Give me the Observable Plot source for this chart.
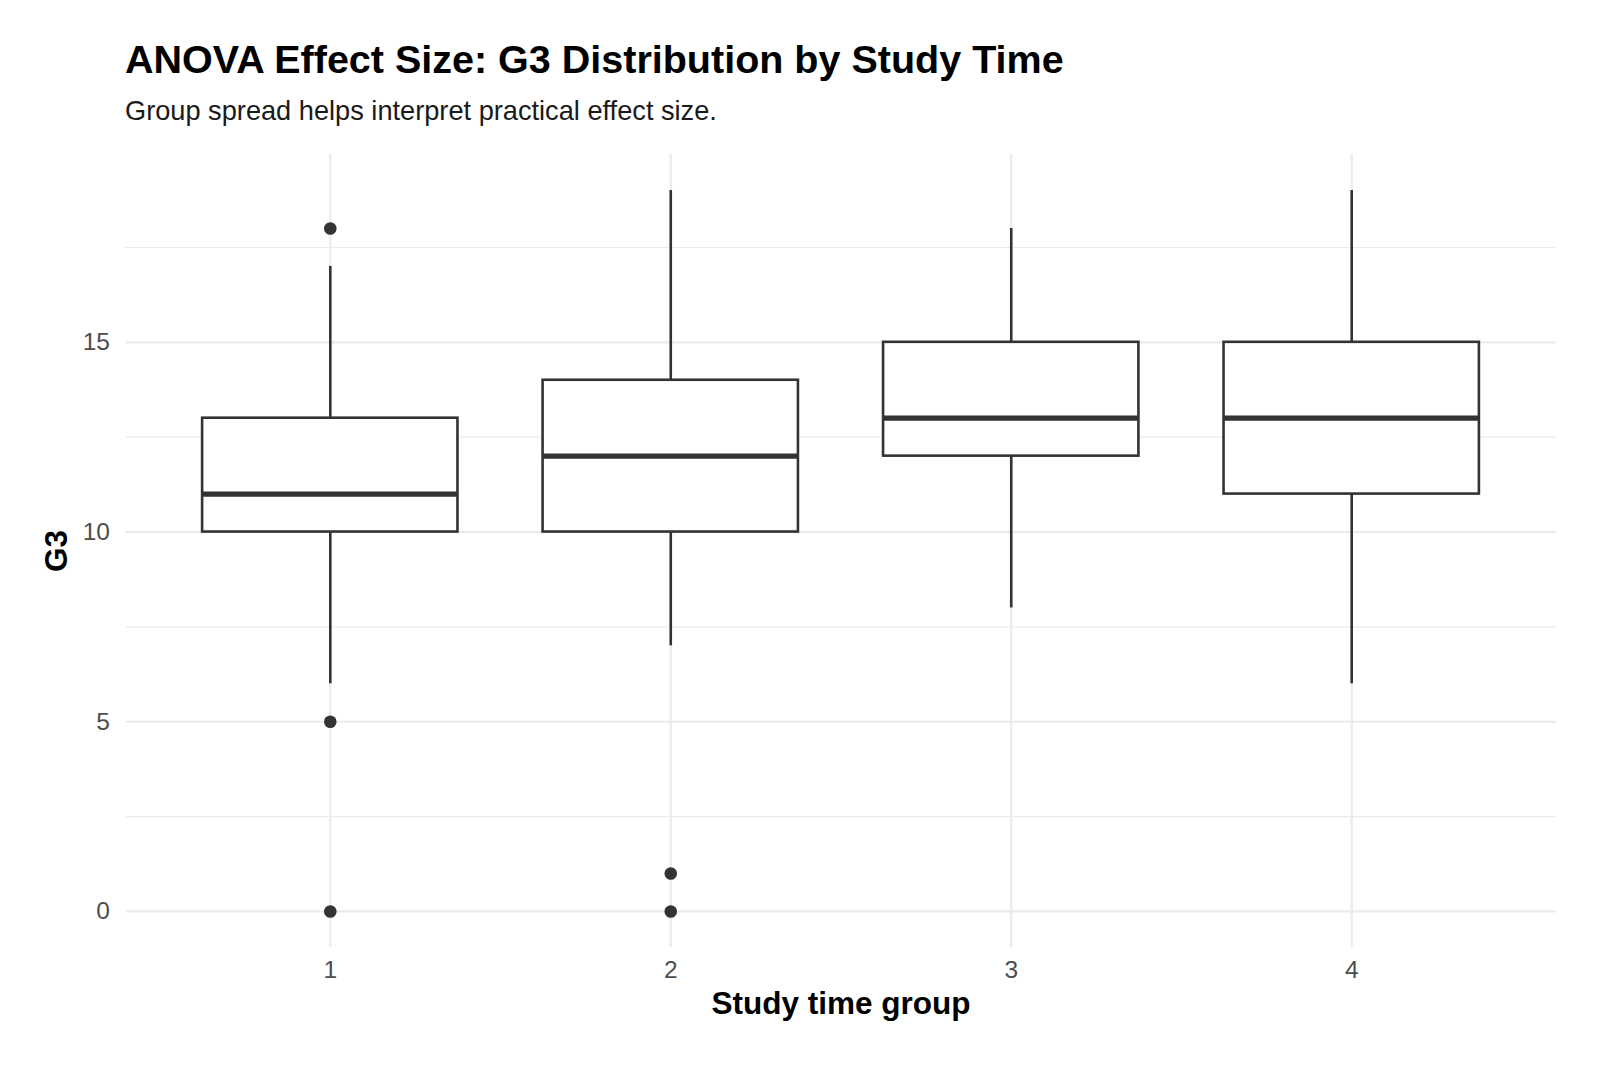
<!DOCTYPE html>
<html>
<head>
<meta charset="utf-8">
<script src="https://cdn.jsdelivr.net/npm/d3@7"></script>
<script src="https://cdn.jsdelivr.net/npm/@observablehq/plot@0.6"></script>
<style>
  html, body { margin: 0; padding: 0; background: #ffffff; }
  body { width: 1600px; height: 1067px; overflow: hidden; font-family: "Liberation Sans", Arial, Helvetica, sans-serif; }
  #header { position: relative; width: 1600px; height: 130px; }
  #title { position: absolute; left: 125px; top: 40px; font-size: 39.5px; line-height: 1; font-weight: bold; color: #000; white-space: nowrap; }
  #subtitle { position: absolute; left: 125px; top: 97px; font-size: 27.2px; line-height: 1; color: #1a1a1a; white-space: nowrap; }
  #chart svg { display: block; }
</style>
</head>
<body>
<div id="header">
  <div id="title">ANOVA Effect Size: G3 Distribution by Study Time</div>
  <div id="subtitle">Group spread helps interpret practical effect size.</div>
</div>
<div id="chart"></div>
<script>
// ---- data ----
const groups = [1, 2, 3, 4];
const lowerWhisker = [6, 7, 8, 6];
const q1 = [10, 10, 12, 11];
const median = [11, 12, 13, 13];
const q3 = [13, 14, 15, 15];
const upperWhisker = [17, 19, 18, 19];
const outlierGroup = [1, 1, 1, 2, 2];
const outlierValue = [18, 5, 0, 1, 0];
const yTicks = [0, 5, 10, 15];
const yMinorTicks = [2.5, 7.5, 12.5, 17.5];
const xTickLabels = ["1", "2", "3", "4"];
const xTitle = "Study time group";
const yTitle = "G3";

// ---- tables built from the arrays ----
const boxes = groups.map((g, i) => ({
  g, lo: lowerWhisker[i], q1: q1[i], med: median[i], q3: q3[i], hi: upperWhisker[i]
}));
const outliers = outlierGroup.map((g, i) => ({ g, v: outlierValue[i] }));
const halfWidth = 0.375;
const ink = "#333333";

const chart = Plot.plot({
  width: 1600,
  height: 937,
  marginTop: 24,
  marginBottom: 120,
  marginLeft: 125.5,
  marginRight: 44.5,
  style: { fontFamily: "'Liberation Sans', Arial, Helvetica, sans-serif", background: "#ffffff" },
  x: { type: "linear", domain: [0.4, 4.6] },
  y: { domain: [-0.95, 19.95] },
  marks: [
    // grid
    Plot.ruleY(yMinorTicks, { stroke: "#ebebeb", strokeWidth: 1.1 }),
    Plot.ruleY(yTicks, { stroke: "#ebebeb", strokeWidth: 2.2 }),
    Plot.ruleX(groups, { stroke: "#ebebeb", strokeWidth: 2.2 }),
    // axes
    Plot.axisY(yTicks, { tickSize: 0, tickPadding: 16, fontSize: 24.5, fill: "#4d4d4d", label: null }),
    Plot.axisX(groups, { tickSize: 0, tickPadding: 13.5, fontSize: 24.5, fill: "#4d4d4d", label: null,
      tickFormat: d => xTickLabels[groups.indexOf(d)] }),
    Plot.text([xTitle], { frameAnchor: "bottom", dy: 66, fontSize: 31.5, fontWeight: "bold", fill: "#000",
      textAnchor: "middle", lineAnchor: "bottom" }),
    Plot.text([yTitle], { frameAnchor: "left", dx: -69, rotate: -90, fontSize: 31.5, fontWeight: "bold", fill: "#000",
      textAnchor: "middle", lineAnchor: "middle" }),
    // whiskers
    Plot.ruleX(boxes, { x: "g", y1: "lo", y2: "q1", stroke: ink, strokeWidth: 2.6 }),
    Plot.ruleX(boxes, { x: "g", y1: "q3", y2: "hi", stroke: ink, strokeWidth: 2.6 }),
    // boxes
    Plot.rect(boxes, { x1: d => d.g - halfWidth, x2: d => d.g + halfWidth, y1: "q1", y2: "q3",
      fill: "#ffffff", stroke: ink, strokeWidth: 2.6 }),
    // medians
    Plot.ruleY(boxes, { y: "med", x1: d => d.g - halfWidth, x2: d => d.g + halfWidth, stroke: ink, strokeWidth: 5.2 }),
    // outliers
    Plot.dot(outliers, { x: "g", y: "v", r: 6.3, fill: ink, stroke: "none" })
  ]
});
document.getElementById("chart").appendChild(chart);
</script>
</body>
</html>
